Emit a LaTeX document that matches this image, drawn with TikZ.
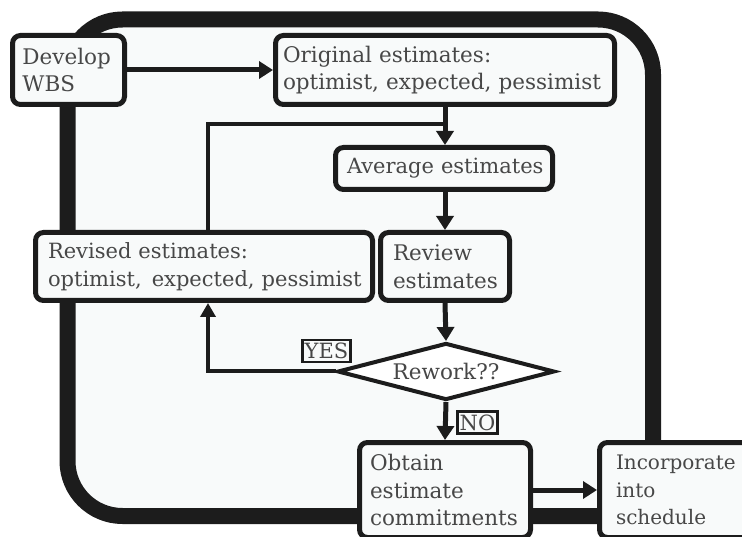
\documentclass[tikz,border=0pt]{standalone}
\usepackage{fontspec}
\setmainfont{DejaVu Serif}
\usetikzlibrary{arrows.meta,shapes.geometric}
\definecolor{panel}{HTML}{F8FAFA}
\definecolor{ink}{HTML}{1C1C1C}
\definecolor{txt}{HTML}{474747}
\hbadness=10000 \hfuzz=400pt
\tikzset{
  stepbox/.style={draw=ink, line width=5pt, rounded corners=8pt, fill=panel,
    text=txt, align=left, inner sep=0pt,
    font=\fontsize{21.5}{27.5}\selectfont},
  decision/.style={diamond, draw=ink, line width=4pt, fill=white, text=txt,
    inner sep=0pt, aspect=3.8, font=\fontsize{21.5}{27.5}\selectfont},
  tag/.style={draw=ink, line width=2.5pt, fill=panel, text=txt,
    inner xsep=2pt, inner ysep=3pt, font=\fontsize{21}{22}\selectfont},
  flow/.style={draw=ink, line width=5pt, -{Triangle[length=14pt,width=17pt]}},
  back/.style={draw=ink, line width=4pt},
  backarrow/.style={back, -{Triangle[length=14pt,width=15pt]}}
}
\begin{document}
\begin{tikzpicture}[x=1pt,y=-1pt]
  \useasboundingbox (0,0) rectangle (742,537);
  \fill[white] (0,0) rectangle (742,537);
  % surrounding loop
  \draw[ink, line width=16pt, fill=panel, rounded corners=55pt]
    (67.5,19.5) rectangle (653,516);

  % connector routing points
  \coordinate (fb) at (208,124);

  % process steps (each line boxed so it never wraps)
  \node[stepbox, minimum width=112, minimum height=69, text width=92] (dev) at (68.5,70)
    {\mbox{Develop}\\\mbox{WBS}};
  \node[stepbox, minimum width=339, minimum height=69, text width=324] (orig) at (445,70)
    {\mbox{Original estimates:}\\\mbox{optimist, expected, pessimist}};
  \node[stepbox, minimum width=217, minimum height=42, text width=194,
        font=\fontsize{21}{27.5}\selectfont] (avg) at (444,168.5)
    {\mbox{Average estimates}};
  \node[stepbox, minimum width=129, minimum height=68, text width=104] (rev) at (445,266.5)
    {\mbox{Review}\\\mbox{estimates}};
  \node[stepbox, minimum width=337, minimum height=68, text width=312,
        font=\fontsize{21}{27.5}\selectfont] (revised) at (204,266.5)
    {\mbox{Revised estimates:}\\\mbox{optimist,\hspace{3pt} expected, pessimist}};
  \node[decision, minimum width=217, minimum height=57] (rw) at (446,371.5) {Rework??};
  \node[stepbox, minimum width=171, minimum height=95, text width=150] (obt) at (445,490)
    {\mbox{Obtain}\\\mbox{estimate}\\\mbox{commitments}};
  \node[stepbox, minimum width=160.5, minimum height=95, text width=127.5,
        font=\fontsize{20}{27.5}\selectfont] (inc) at (679.75,490)
    {\mbox{Incorporate}\\\mbox{into}\\\mbox{schedule}};

  % connectors
  \draw[flow] (dev.east) -- (orig.west);
  \draw[back] (revised.north -| fb) -- (fb) -- (fb -| orig.south);
  \draw[flow] (orig.south) -- (avg.north -| orig.south);
  \draw[flow] (avg.south -| rev.north) -- (rev.north);
  \draw[flow] (rev.south) -- (rw.north);
  \draw[backarrow] (rw.west) -| (revised.south -| fb);
  \draw[flow] (rw.south) -- (obt.north);
  \draw[flow] (obt.east |- 0,490) -- (inc.west |- 0,490);

  % branch labels
  \node[tag] (yes) at (326.5,351) {YES};
  \node[tag] (no) at (477.5,422.5) {NO};
\end{tikzpicture}
\end{document}
